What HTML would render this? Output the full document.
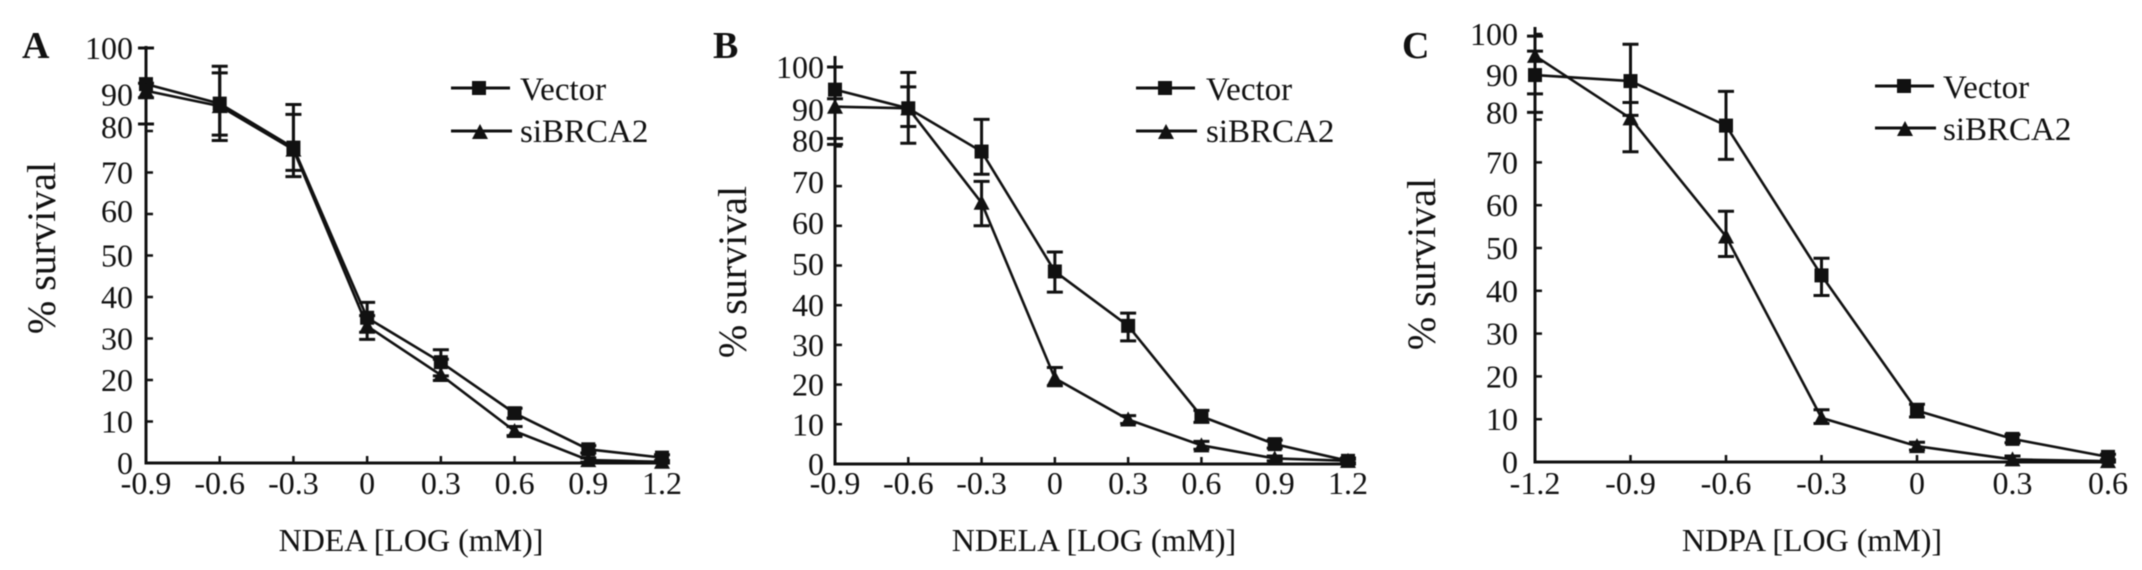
<!DOCTYPE html>
<html lang="en">
<head>
<meta charset="utf-8">
<title>Survival curves for NDEA, NDELA and NDPA</title>
<style>
html,body{margin:0;padding:0;background:#fff;width:2142px;height:570px;overflow:hidden}
svg{display:block;filter:blur(0.5px)}
text{font-family:"Liberation Serif",serif;fill:#111}
.tick{font-size:32px}
.xt{font-size:32px}
.yt{font-size:40px}
.leg{font-size:33px}
.let{font-size:38px;font-weight:bold}
</style>
</head>
<body>
<svg id="figure" width="2142" height="570" viewBox="0 0 2142 570" xmlns="http://www.w3.org/2000/svg">
  <text class="let" x="22" y="58">A</text>
  <text class="let" x="713" y="58">B</text>
  <text class="let" x="1402" y="58">C</text>

  <text class="yt" transform="translate(55,248) rotate(-90)" text-anchor="middle">% survival</text>
  <text class="yt" transform="translate(746,272) rotate(-90)" text-anchor="middle">% survival</text>
  <text class="yt" transform="translate(1435,264) rotate(-90)" text-anchor="middle">% survival</text>

  <text class="xt" x="411" y="551" text-anchor="middle">NDEA [LOG (mM)]</text>
  <text class="xt" x="1094" y="551" text-anchor="middle">NDELA [LOG (mM)]</text>
  <text class="xt" x="1812" y="551" text-anchor="middle">NDPA [LOG (mM)]</text>

  <g id="marks"></g>

  <g stroke="#111" stroke-width="3" fill="#111">
    <line x1="451" y1="88" x2="510" y2="88"/>
    <rect x="472" y="81" width="14" height="14" stroke="none"/>
    <line x1="451" y1="131" x2="512" y2="131"/>
    <polygon points="480,124 488,139 472,139" stroke="none"/>
  </g>
  <text class="leg" x="520" y="100">Vector</text>
  <text class="leg" x="520" y="142">siBRCA2</text>

  <g stroke="#111" stroke-width="3" fill="#111">
    <line x1="1136" y1="88" x2="1195" y2="88"/>
    <rect x="1158" y="81" width="14" height="14" stroke="none"/>
    <line x1="1136" y1="131" x2="1197" y2="131"/>
    <polygon points="1166,124 1174,139 1158,139" stroke="none"/>
  </g>
  <text class="leg" x="1206" y="100">Vector</text>
  <text class="leg" x="1206" y="142">siBRCA2</text>

  <g stroke="#111" stroke-width="3" fill="#111">
    <line x1="1875" y1="86" x2="1934" y2="86"/>
    <rect x="1897" y="79" width="14" height="14" stroke="none"/>
    <line x1="1875" y1="128" x2="1936" y2="128"/>
    <polygon points="1905,121 1913,136 1897,136" stroke="none"/>
  </g>
  <text class="leg" x="1943" y="98">Vector</text>
  <text class="leg" x="1943" y="140">siBRCA2</text>
</svg>
<script>
var yTicks = [0, 10, 20, 30, 40, 50, 60, 70, 80, 90, 100];

var aCategories = ['-0.9', '-0.6', '-0.3', '0', '0.3', '0.6', '0.9', '1.2'];
var aVector = [91.3, 86.6, 76, 35, 24.3, 12, 3.3, 1.3];
var aVectorHi = [100, 95.6, 86.4, 38.7, 27.3, 13.2, 4.2, 2];
var aVectorLo = [81.7, 79, 70.5, 31.5, 21, 10.8, 2.4, 0.5];
var aSi = [89.7, 86, 75.5, 33, 21.2, 7.7, 0.7, 0.3];
var aSiHi = [91.5, 94, 84, 35.5, 25, 8.8, 1.2, 0.6];
var aSiLo = [88, 77.7, 69, 29.8, 19.9, 6.6, 0.2, 0];

var bCategories = ['-0.9', '-0.6', '-0.3', '0', '0.3', '0.6', '0.9', '1.2'];
var bVector = [94.3, 89.6, 78.7, 48.5, 34.8, 12, 5, 0.8];
var bVectorHi = [100, 98.6, 86.8, 53.4, 38, 13.5, 6, 1.5];
var bVectorLo = [82, 80.8, 73, 43.3, 31, 10.5, 4, 0.2];
var bSi = [90, 89.6, 65.8, 21.6, 11.2, 4.7, 1.4, 0.8];
var bSiHi = [92, 95, 71.2, 24.3, 12.2, 5.7, 2, 1.2];
var bSiLo = [80.5, 85, 60, 19.7, 10.2, 3.7, 0.8, 0.3];

var cCategories = ['-1.2', '-0.9', '-0.6', '-0.3', '0', '0.3', '0.6'];
var cVector = [90.4, 89, 78.6, 43.6, 12, 5.4, 1.2];
var cVectorHi = [99.5, 97.6, 86.6, 47.6, 13.5, 6.4, 1.8];
var cVectorLo = [86, 81, 70.7, 38.9, 10.5, 4.5, 0.5];
var cSi = [94.9, 80.3, 52.7, 10.3, 3.7, 0.6, 0.2];
var cSiHi = [96, 84, 58.6, 12.2, 4.6, 1.4, 0.5];
var cSiLo = [81.7, 72.5, 48, 9, 2.8, 0, 0];

var NS = 'http://www.w3.org/2000/svg';
var root = document.getElementById('marks');

function make(tag, attrs, parent) {
  var el = document.createElementNS(NS, tag);
  for (var k in attrs) { el.setAttribute(k, attrs[k]); }
  parent.appendChild(el);
  return el;
}

function drawPanel(p) {
  var g = make('g', {}, root);
  
  

  var n = p.categories.length;
  var first = parseFloat(p.categories[0]);
  var last = parseFloat(p.categories[n - 1]);
  function sx(v) { return p.x0 + (v - first) / (last - first) * (p.x1 - p.x0); }
  function sy(v) { return p.y0 + v / 100 * (p.y100 - p.y0); }

  var yAxis = make('line', { x1: p.x0, x2: p.x0, y1: p.yTop, y2: p.y0 + 1.5, stroke: '#111', 'stroke-width': 3 }, g);
  
  

  var xAxis = make('line', { x1: p.x0 - 1.5, x2: p.x1 + 8, y1: p.y0, y2: p.y0, stroke: '#111', 'stroke-width': 3 }, g);
  
  

  yTicks.forEach(function (t) {
    var tick = make('line', { x1: p.x0, x2: p.x0 + 7, y1: sy(t), y2: sy(t), stroke: '#111', 'stroke-width': 2.5 }, g);
    
    
    var nudge = p.labelNudge[t] || 0;
    var lab = make('text', { x: p.labelX, y: sy(t) + 11 + nudge, 'text-anchor': 'end', 'class': 'tick' }, g);
    
    
    lab.textContent = String(t);
  });

  p.categories.forEach(function (c) {
    var v = parseFloat(c);
    var tick = make('line', { x1: sx(v), x2: sx(v), y1: p.y0, y2: p.y0 - 7, stroke: '#111', 'stroke-width': 2.5 }, g);
    
    
    var lab = make('text', { x: sx(v), y: 494, 'text-anchor': 'middle', 'class': 'tick' }, g);
    
    
    lab.textContent = c;
  });

  function errorBars(name, hi, lo) {
    p.categories.forEach(function (c, i) {
      var x = sx(parseFloat(c));
      var bar = make('path', {
        d: 'M' + x + ' ' + sy(hi[i]) + 'V' + sy(lo[i]) +
           'M' + (x - 8) + ' ' + sy(hi[i]) + 'H' + (x + 8) +
           'M' + (x - 8) + ' ' + sy(lo[i]) + 'H' + (x + 8),
        stroke: '#111', 'stroke-width': 3, fill: 'none'
      }, g);
      
      
    });
  }

  function series(name, values) {
    var pts = p.categories.map(function (c, i) { return sx(parseFloat(c)) + ',' + sy(values[i]); }).join(' ');
    var line = make('polyline', { points: pts, fill: 'none', stroke: '#111', 'stroke-width': 2.6 }, g);
    
    
  }

  function squares(values) {
    p.categories.forEach(function (c, i) {
      var x = sx(parseFloat(c)), y = sy(values[i]);
      var m = make('rect', { x: x - 7, y: y - 7, width: 14, height: 14, fill: '#111' }, g);
      
      
    });
  }

  function triangles(values) {
    p.categories.forEach(function (c, i) {
      var x = sx(parseFloat(c)), y = sy(values[i]);
      var m = make('polygon', { points: x + ',' + (y - 8) + ' ' + (x + 8) + ',' + (y + 7) + ' ' + (x - 8) + ',' + (y + 7), fill: '#111' }, g);
      
      
    });
  }

  errorBars('vector', p.vectorHi, p.vectorLo);
  errorBars('sibrca2', p.siHi, p.siLo);
  series('vector', p.vector);
  series('sibrca2', p.si);
  squares(p.vector);
  triangles(p.si);
}

drawPanel({ id: 'a', categories: aCategories, vector: aVector, vectorHi: aVectorHi, vectorLo: aVectorLo, si: aSi, siHi: aSiHi, siLo: aSiLo,
  x0: 146, x1: 662, y0: 463, y100: 48, yTop: 46, labelX: 133, labelNudge: { 90: 5, 80: -4, 60: -3 } });
drawPanel({ id: 'b', categories: bCategories, vector: bVector, vectorHi: bVectorHi, vectorLo: bVectorLo, si: bSi, siHi: bSiHi, siLo: bSiLo,
  x0: 835, x1: 1348, y0: 464, y100: 67, yTop: 56, labelX: 824, labelNudge: { 90: 3, 80: -6, 70: -4, 60: -3, 50: -1.5 } });
drawPanel({ id: 'c', categories: cCategories, vector: cVector, vectorHi: cVectorHi, vectorLo: cVectorLo, si: cSi, siHi: cSiHi, siLo: cSiLo,
  x0: 1535, x1: 2108, y0: 462, y100: 34, yTop: 27, labelX: 1518, labelNudge: { 90: -2, 80: -7 } });
</script>
</body>
</html>
